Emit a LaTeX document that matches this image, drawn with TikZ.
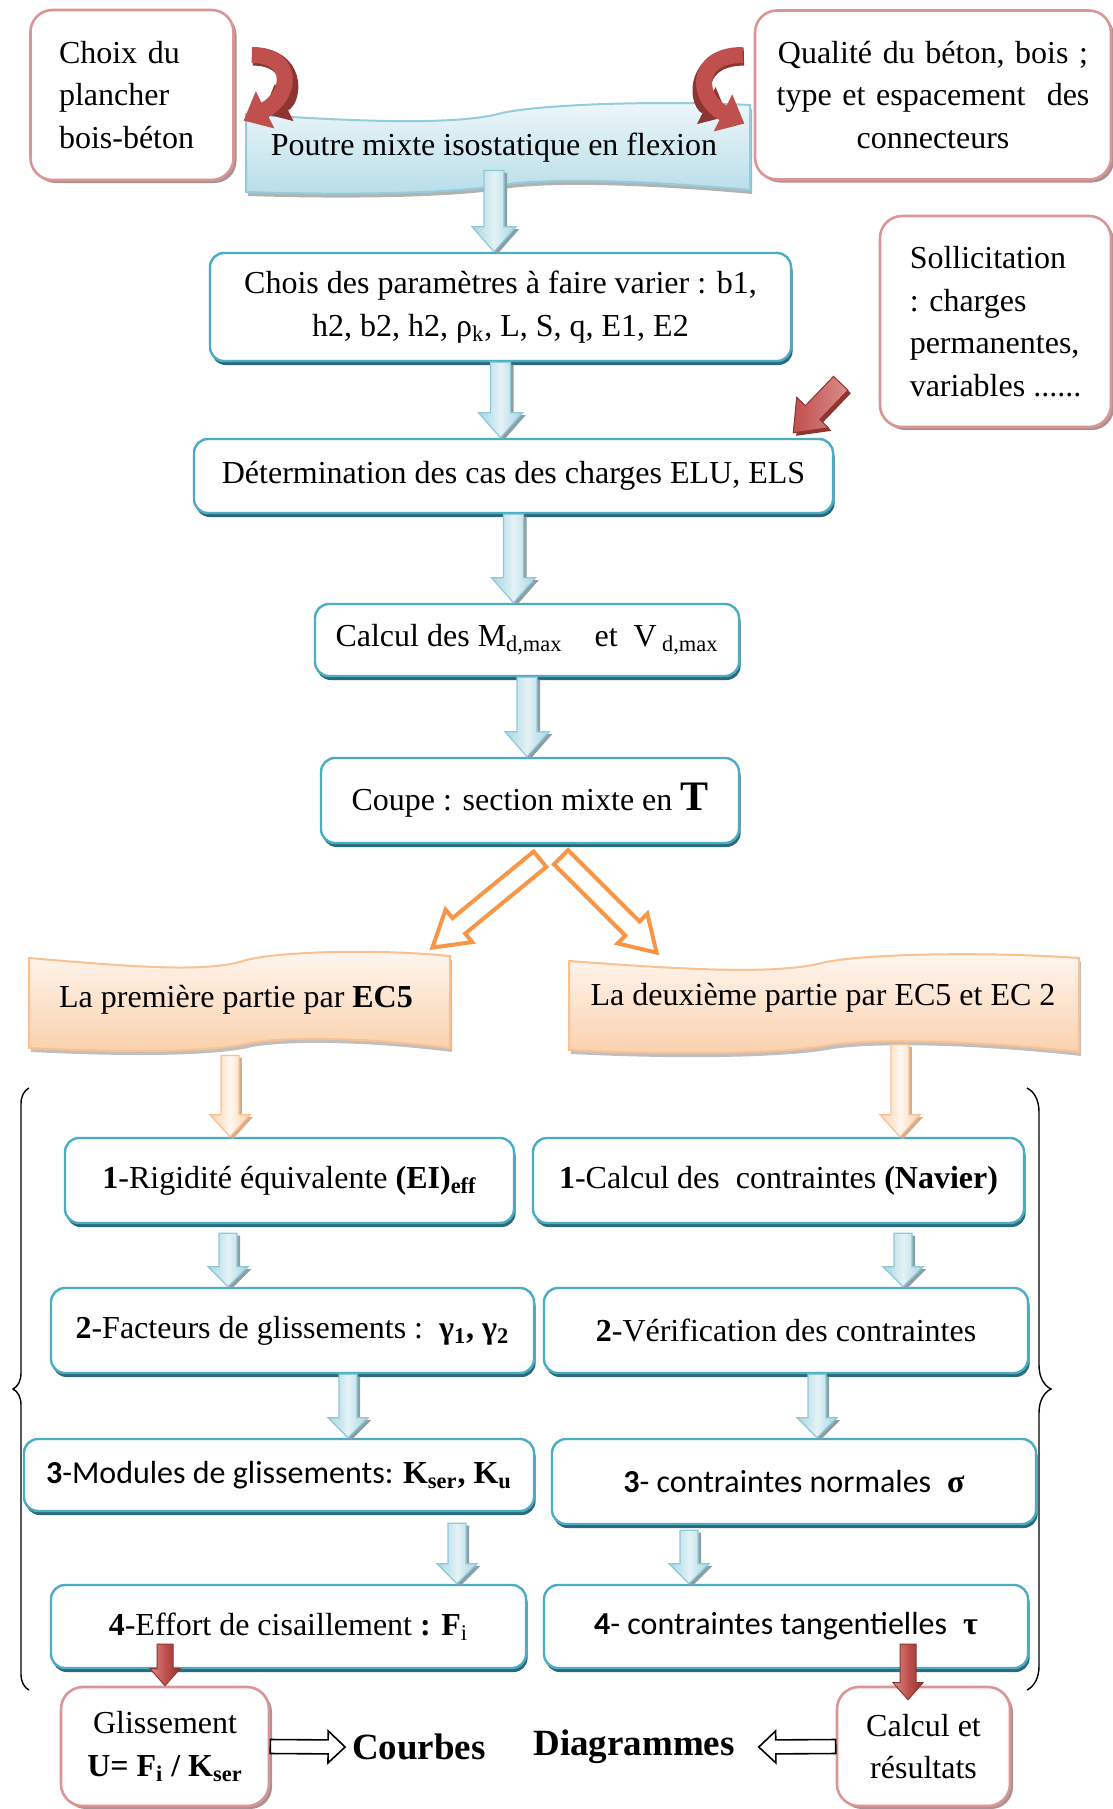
\documentclass[tikz,border=0pt]{standalone}
\usepackage{fontspec}
\setmainfont{Liberation Serif}
\newfontfamily\calib{Carlito}
\usetikzlibrary{arrows.meta, calc, shadows, decorations.pathreplacing}
\definecolor{boxblue}{HTML}{4BACC6}
\definecolor{boxshade}{HTML}{2D6A79}
\definecolor{boxred}{HTML}{D99694}
\definecolor{redshade}{HTML}{A89292}
\definecolor{arrblueL}{HTML}{E4F2F6}
\definecolor{arrblueD}{HTML}{A5D5E2}
\definecolor{arrblueE}{HTML}{8FC9D8}
\definecolor{arrgray}{HTML}{8A9EA4}
\definecolor{bannerT}{HTML}{EEF7FA}
\definecolor{bannerB}{HTML}{B7DDE8}
\definecolor{bannerE}{HTML}{92CDDC}
\definecolor{orgT}{HTML}{FFF7F0}
\definecolor{orgB}{HTML}{FAD0AC}
\definecolor{orgE}{HTML}{FAC090}
\definecolor{orgA}{HTML}{F79646}
\definecolor{redA}{HTML}{C0504D}
\definecolor{redL}{HTML}{D98C8A}
\definecolor{redD}{HTML}{8E3532}

\tikzset{
  bluebox/.style={draw=boxblue, line width=1.2pt, fill=white, rounded corners=7pt,
    drop shadow={shadow xshift=0.8pt, shadow yshift=-2pt, fill=boxshade, opacity=1}},
  redbox/.style={draw=boxred, line width=1.3pt, fill=white, rounded corners=11pt,
    drop shadow={shadow xshift=1.5pt, shadow yshift=-1.5pt, fill=redshade, opacity=1}},
  % straight block arrow going down: half shaft, half head, head length
  vblk/.style n args={3}{to path={let \p1=(\tikztostart), \p2=(\tikztotarget) in
    ({\x1-#1},\y1) -- ({\x1+#1},\y1) -- ({\x1+#1},{\y2+#3}) -- ({\x1+#2},{\y2+#3})
    -- (\x1,\y2) -- ({\x1-#2},{\y2+#3}) -- ({\x1-#1},{\y2+#3}) -- cycle}},
  % straight block arrow in any direction
  blk/.style n args={3}{to path={let \p1=(\tikztostart), \p2=(\tikztotarget),
    \n1={atan2(\y2-\y1,\x2-\x1)}, \n2={veclen(\x2-\x1,\y2-\y1)-#3} in
    ($(\p1)+(\n1+90:#1)$) -- ($(\p1)+(\n1:{\n2*1pt})+(\n1+90:#1)$)
    -- ($(\p1)+(\n1:{\n2*1pt})+(\n1+90:#2)$) -- (\p2)
    -- ($(\p1)+(\n1:{\n2*1pt})+(\n1-90:#2)$) -- ($(\p1)+(\n1:{\n2*1pt})+(\n1-90:#1)$)
    -- ($(\p1)+(\n1-90:#1)$) -- cycle}},
  bluearr/.style={vblk={5pt}{11pt}{12.5pt}, draw=arrblueE, line width=0.6pt,
    left color=arrblueD, right color=arrblueD, middle color=arrblueL,
    drop shadow={shadow xshift=1.6pt, shadow yshift=-1.2pt, fill=arrgray, opacity=1}},
  bluearrs/.style={bluearr, vblk={4.5pt}{10pt}{10pt}},
  orgdown/.style={vblk={4.5pt}{10pt}{11pt}, draw=orgE, line width=0.6pt,
    left color=orgB, right color=orgB, middle color=orgT,
    drop shadow={shadow xshift=1.4pt, shadow yshift=-1.2pt, fill=orgE!70!gray, opacity=1}},
  orghollow/.style={blk={5pt}{10.5pt}{17pt}, draw=orgA, line width=2pt, fill=white},
  redarr/.style={vblk={4pt}{7.5pt}{8.5pt}, draw=redD, line width=0.5pt,
    left color=redL, right color=redD, middle color=redA},
  reddiag/.style={blk={5pt}{11pt}{14pt}, draw=redD, line width=0.5pt,
    left color=redA, right color=redL,
    drop shadow={shadow xshift=1.5pt, shadow yshift=-1.5pt, fill=redD, opacity=1}},
  redcurve/.style={draw=redA, line width=8pt, -{Triangle[length=12pt, width=20pt]},
    preaction={draw=redD, line width=9pt, shorten >=10pt, transform canvas={shift={(0.6pt,-0.8pt)}}}},
  hollow/.style={blk={3.5pt}{8pt}{8.5pt}, draw=black, line width=0.8pt, fill=white},
  bigtxt/.style={font=\fontsize{18.5pt}{20pt}\selectfont\bfseries}
}

\begin{document}
\begin{tikzpicture}[x=0.5pt, y=-0.5pt, font=\fontsize{16pt}{21.3pt}\selectfont]
\useasboundingbox (0,0) rectangle (1113,1809);

% Banner at the top
\path[draw=bannerE, line width=1pt, top color=bannerT, bottom color=bannerB,
  drop shadow={shadow xshift=1pt, shadow yshift=-2pt, fill=gray!60, opacity=1}]
  (246,114) .. controls (372,123) and (458,124) .. (498,114)
  .. controls (530,105) and (650,100) .. (750,105) -- (750,190)
  .. controls (650,181) and (560,178) .. (508,184)
  .. controls (470,192) and (370,196) .. (246,192) -- cycle;
\node[minimum width=252pt, minimum height=39pt, inner sep=0pt] (poutre) at (494,148)
  {Poutre mixte isostatique en flexion};

% Side boxes
\node[redbox, minimum width=101.5pt, minimum height=85pt, text width=73pt, align=left]
  (choixp) at (132,95) {Choix du\\plancher\\bois-béton};
\node[redbox, minimum width=178pt, minimum height=84.5pt, text width=165pt, align=center]
  (qualite) at (933,95) {Qualité du béton, bois ;\\type et espacement\ \ des\\connecteurs};
\node[redbox, minimum width=115.5pt, minimum height=105.5pt, align=left]
  (sollic) at (995.5,321.5) {Sollicitation\\: charges\\permanentes,\\variables ......};

% Main column
\node[bluebox, minimum width=290.5pt, minimum height=54pt, align=center] (params) at (500.5,307)
  {Chois des paramètres à faire varier : b1,\\h2, b2, h2, ρ\textsubscript{k}, L, S, q, E1, E2};
\node[bluebox, minimum width=319.5pt, minimum height=37pt] (determ) at (513.5,476)
  {Détermination des cas des charges ELU, ELS};
\node[bluebox, minimum width=212pt, minimum height=36pt] (calcM) at (527,640)
  {Calcul des M\textsubscript{d,max}\quad et\ \ V\,\textsubscript{d,max}};
\node[bluebox, minimum width=209pt, minimum height=42.5pt] (coupe) at (530,800.5)
  {Coupe : section mixte en {\fontsize{21pt}{21pt}\selectfont\bfseries T}};

% The two parts
\path[draw=orgE, line width=1pt, top color=orgT, bottom color=orgB,
  drop shadow={shadow xshift=1pt, shadow yshift=-2pt, fill=gray!50, opacity=1}]
  (29,958) .. controls (134,967) and (200,972) .. (240,962)
  .. controls (265,952) and (370,948) .. (450,956) -- (450,1048)
  .. controls (370,1038) and (290,1036) .. (250,1043)
  .. controls (215,1052) and (130,1053) .. (29,1048) -- cycle;
\path[draw=orgE, line width=1pt, top color=orgT, bottom color=orgB,
  drop shadow={shadow xshift=1pt, shadow yshift=-2pt, fill=gray!50, opacity=1}]
  (569,961) .. controls (690,970) and (770,974) .. (818,964)
  .. controls (850,954) and (980,951) .. (1079,958) -- (1079,1052)
  .. controls (980,1041) and (880,1038) .. (830,1045)
  .. controls (790,1053) and (690,1056) .. (569,1050) -- cycle;
\node[minimum width=210.5pt, minimum height=45pt, inner sep=0pt] (part1) at (236,1000)
  {La première partie par \textbf{EC5}};
\node[minimum width=255pt, minimum height=45pt, inner sep=0pt] (part2) at (823,998)
  {La deuxième partie par EC5 et EC 2};

% Left steps
\node[bluebox, minimum width=224.5pt, minimum height=42.5pt] (rigid) at (289.5,1180.5)
  {\textbf{1}-Rigidité équivalente \textbf{(EI)\textsubscript{eff}}};
\node[bluebox, minimum width=241.5pt, minimum height=42.5pt] (facteurs) at (292.5,1330.5)
  {\textbf{2}-Facteurs de glissements :\ \ \textbf{γ\textsubscript{1}, γ\textsubscript{2}}};
\node[bluebox, minimum width=255pt, minimum height=36pt] (modules) at (279,1475)
  {{\calib\textbf{3}-Modules de glissements: }\textbf{K\textsubscript{ser}, K\textsubscript{u}}};
\node[bluebox, minimum width=237.5pt, minimum height=41.5pt] (effort) at (288.5,1626.5)
  {\textbf{4}-Effort de cisaillement \textbf{: F}\textsubscript{i}};

% Right steps
\node[bluebox, minimum width=245.5pt, minimum height=42.5pt] (navier) at (778.5,1180.5)
  {\textbf{1}-Calcul des\ \ contraintes \textbf{(Navier)}};
\node[bluebox, minimum width=242pt, minimum height=42.5pt] (verif) at (786,1330.5)
  {\textbf{2}-Vérification des contraintes};
\node[bluebox, minimum width=242pt, minimum height=42.5pt] (normales) at (794,1481.5)
  {{\calib\textbf{3}- contraintes normales}\ \ \textbf{σ}};
\node[bluebox, minimum width=242pt, minimum height=41.5pt] (tangent) at (786,1626.5)
  {{\calib\textbf{4}- contraintes tangentielles}\ \ \textbf{τ}};

% Results
\node[redbox, minimum width=104pt, minimum height=59.5pt, align=center] (gliss) at (165,1746.5)
  {Glissement\\\textbf{U= F\textsubscript{i} / K\textsubscript{ser}}};
\node[redbox, minimum width=86.5pt, minimum height=59.5pt, align=center] (resultat) at (923.5,1746.5)
  {Calcul et\\résultats};
\node[bigtxt] (courbes) at (419,1747) {Courbes};
\node[bigtxt] (diagr) at (634,1747) {Diagrammes};

% Arrows of the main column
\path[bluearr] ($(poutre.south)+(0,-17)$) to (params.north);
\path[bluearr] (params.south) to (determ.north);
\path[bluearr] (determ.south) to (calcM.north);
\path[bluearr] (calcM.south) to (coupe.north);
\path[orghollow] ($(coupe.south)+(10,15)$) to ($(part1.north east)+(-14.5,-7)$);
\path[orghollow] ($(coupe.south)+(31,13)$) to ($(part2.north west)+(89,0)$);
\path[orgdown] ($(part1.south)+(-6,10)$) to (rigid.north);
\path[orgdown] ($(part2.south)+(77,1)$) to (navier.north);

% Arrows between the steps
\path[bluearrs] ($(rigid.south)+(-61.5,9)$) to (facteurs.north);
\path[bluearrs] ($(facteurs.south)+(55.5,0)$) to (modules.north);
\path[bluearrs] ($(modules.south)+(178,11)$) to (effort.north);
\path[bluearrs] ($(navier.south)+(124.5,9)$) to (verif.north);
\path[bluearrs] ($(verif.south)+(31,0)$) to (normales.north);
\path[bluearrs] ($(normales.south)+(-105,5)$) to (tangent.north);
\path[redarr] ($(effort.south)+(-123.5,-25)$) to (gliss.north);
\path[redarr] ($(tangent.south)+(122,-25)$) to ($(resultat.north)+(0,14)$);

% Red inputs
\draw[redcurve] ($(choixp.east)+(17,-40)$) .. controls +(44,0) and +(48,-24) .. ($(poutre.north west)+(2,12)$);
\draw[redcurve] ($(qualite.west)+(-11,-40)$) .. controls +(-50,0) and +(-48,-24) .. ($(poutre.north east)+(-2,15)$);
\path[reddiag] ($(sollic.south west)+(-38,-45)$) to ($(determ.north east)+(-41,-5)$);

% Bottom
\path[hollow] (gliss.east) to (courbes.west);
\path[hollow] (resultat.west) to ($(diagr.east)+(17,0)$);

% Braces
\draw[decorate, decoration={brace, amplitude=8pt}, line width=0.7pt] (29,1690) -- (29,1088);
\draw[decorate, decoration={brace, amplitude=12pt}, line width=0.7pt] (1027,1088) -- (1027,1690);

\end{tikzpicture}
\end{document}
